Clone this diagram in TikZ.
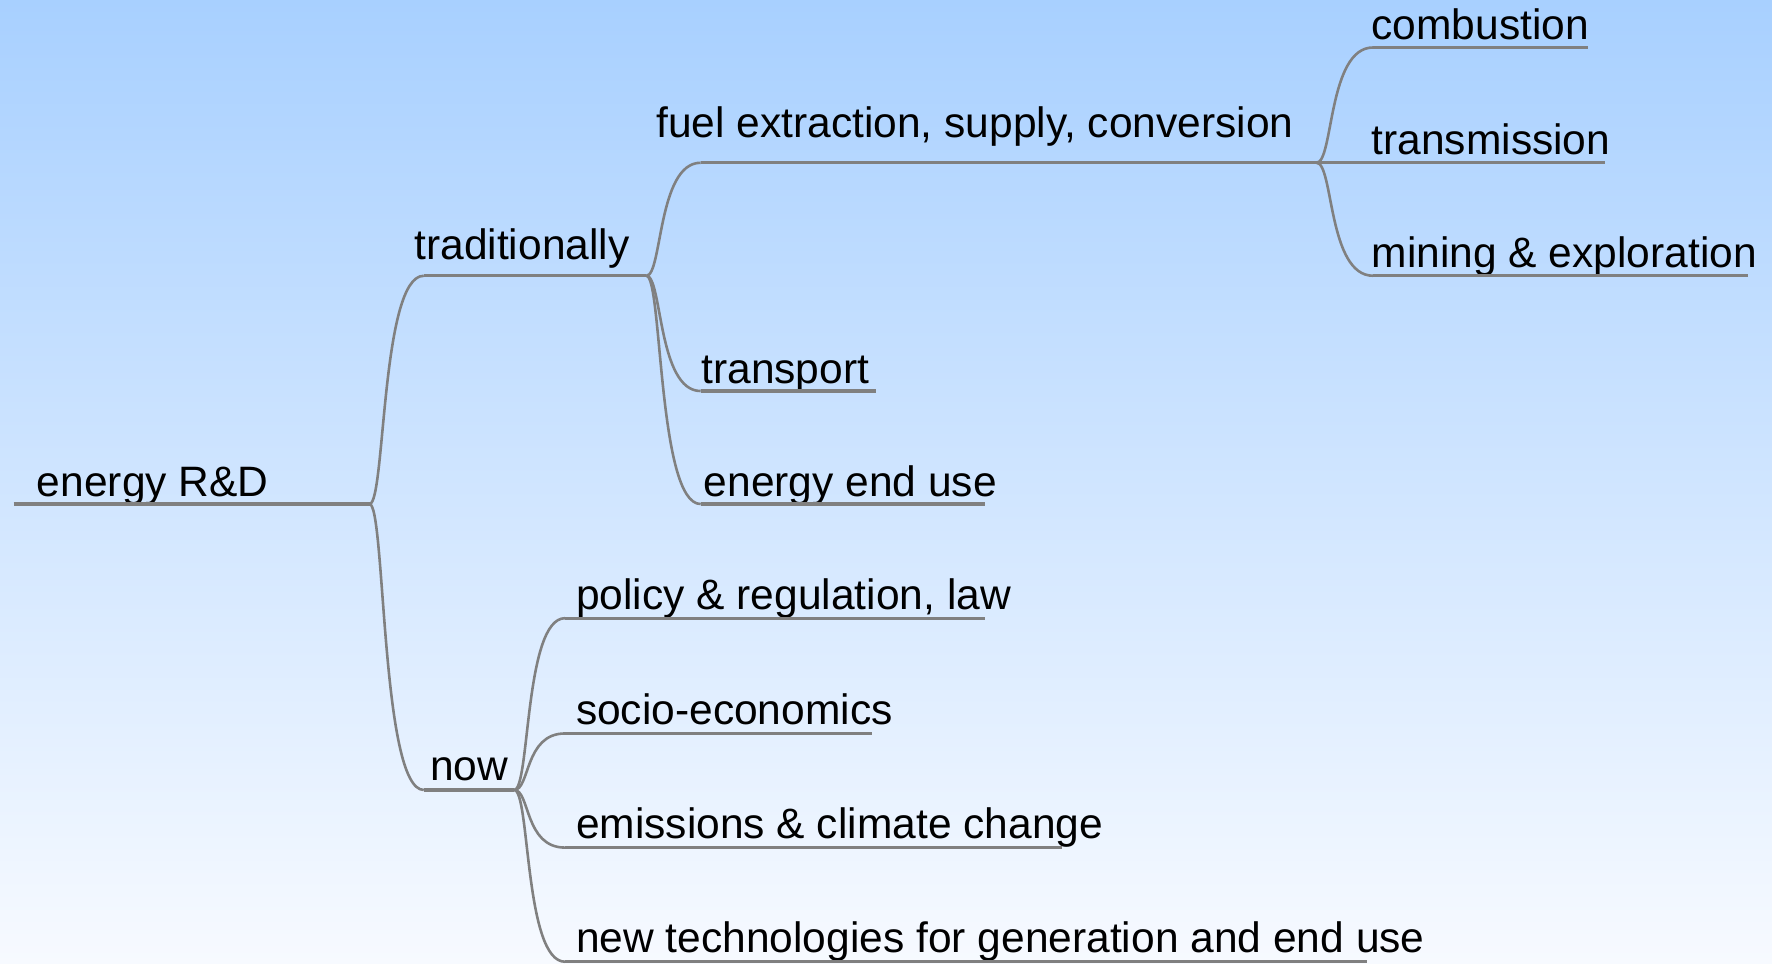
\documentclass[tikz,border=0pt]{standalone}
\usepackage{fontspec}
\setmainfont{Liberation Sans}
\definecolor{skytop}{RGB}{168,208,255}
\definecolor{skybottom}{RGB}{247,250,255}
\definecolor{linegray}{RGB}{128,128,128}

\begin{document}
\begin{tikzpicture}[x=0.01cm, y=-0.01cm,
  topic/.style={anchor=base west, inner sep=0pt, font=\fontsize{10.7}{12}\selectfont},
  underline/.style={draw=linegray, line width=0.8pt},
  link/.style={draw=linegray, line width=0.65pt}]
\useasboundingbox (0,0) rectangle (1568,853);
\shade[top color=skytop, bottom color=skybottom] (0,0) rectangle (1568,853);

% root
\coordinate (root-w) at (12,446); \coordinate (root-e) at (327,446);
\node[topic] (root) at (32,439) {energy R\&D};
% first level
\coordinate (trad-w) at (375,244); \coordinate (trad-e) at (572,244);
\node[topic] (trad) at (366,230) {traditionally};
\coordinate (now-w) at (375,699); \coordinate (now-e) at (455,699);
\node[topic] (now) at (380,691) {now};
% traditionally
\coordinate (fuel-w) at (620,144); \coordinate (fuel-e) at (1165,144);
\node[topic] (fuel) at (580,122) {fuel extraction, supply, conversion};
\coordinate (transport-w) at (620,346); \coordinate (transport-e) at (775,346);
\node[topic] (transport) at (620,339) {transport};
\coordinate (enduse-w) at (620,446); \coordinate (enduse-e) at (872,446);
\node[topic] (enduse) at (622,439) {energy end use};
% fuel
\coordinate (comb-w) at (1215,42); \coordinate (comb-e) at (1405,42);
\node[topic] (comb) at (1213,35) {combustion};
\coordinate (trans-w) at (1215,144); \coordinate (trans-e) at (1420,144);
\node[topic] (trans) at (1213,137) {transmission};
\coordinate (mining-w) at (1215,244); \coordinate (mining-e) at (1547,244);
\node[topic] (mining) at (1213,237) {mining \& exploration};
% now
\coordinate (policy-w) at (500,547); \coordinate (policy-e) at (872,547);
\node[topic] (policy) at (509,539) {policy \& regulation, law};
\coordinate (socio-w) at (500,649); \coordinate (socio-e) at (772,649);
\node[topic] (socio) at (509,641) {socio-economics};
\coordinate (emis-w) at (500,750); \coordinate (emis-e) at (940,750);
\node[topic] (emis) at (509,742) {emissions \& climate change};
\coordinate (newtech-w) at (500,851); \coordinate (newtech-e) at (1210,851);
\node[topic] (newtech) at (509,843) {new technologies for generation and end use};

% underlines
\foreach \n in {root,trad,now,fuel,transport,enduse,comb,trans,mining,policy,socio,emis,newtech}
  \draw[underline] (\n-w) -- (\n-e);

% branches
\draw[link] (root-e) .. controls +(14,0) and +(-38,0) .. (trad-w);
\draw[link] (root-e) .. controls +(14,0) and +(-38,0) .. (now-w);
\draw[link] (trad-e) .. controls +(14,0) and +(-38,0) .. (fuel-w);
\draw[link] (trad-e) .. controls +(14,0) and +(-38,0) .. (transport-w);
\draw[link] (trad-e) .. controls +(14,0) and +(-38,0) .. (enduse-w);
\draw[link] (fuel-e) .. controls +(15,0) and +(-40,0) .. (comb-w);
\draw[link] (fuel-e) -- (trans-w);
\draw[link] (fuel-e) .. controls +(15,0) and +(-40,0) .. (mining-w);
\draw[link] (now-e) .. controls +(14,0) and +(-36,0) .. (policy-w);
\draw[link] (now-e) .. controls +(14,0) and +(-36,0) .. (socio-w);
\draw[link] (now-e) .. controls +(14,0) and +(-36,0) .. (emis-w);
\draw[link] (now-e) .. controls +(14,0) and +(-36,0) .. (newtech-w);
\end{tikzpicture}
\end{document}
